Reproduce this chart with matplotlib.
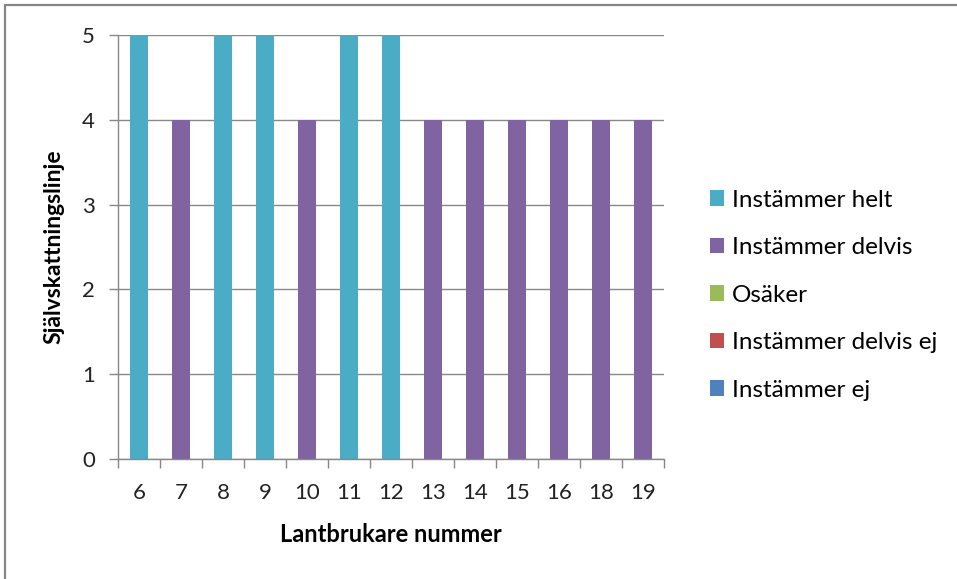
import matplotlib
matplotlib.use("Agg")
import matplotlib.pyplot as plt
import numpy as np
from matplotlib.patches import Rectangle
from matplotlib.ticker import FixedLocator

# --- data ---------------------------------------------------------------
farmers = ["6", "7", "8", "9", "10", "11", "12", "13", "14", "15", "16", "18", "19"]
series_names = ["Instämmer helt", "Instämmer delvis", "Osäker",
                "Instämmer delvis ej", "Instämmer ej"]
helt = [5, 0, 5, 5, 0, 5, 5, 0, 0, 0, 0, 0, 0]
delvis = [0, 4, 0, 0, 4, 0, 0, 4, 4, 4, 4, 4, 4]
osaker = [0] * 13
delvis_ej = [0] * 13
ej = [0] * 13
colors = ["#4BACC6", "#8064A2", "#9BBB59", "#C0504D", "#4F81BD"]

plt.rcParams["font.family"] = ["Lato", "DejaVu Sans"]
grey = "#888888"

fig = plt.figure(figsize=(9.57, 5.79), dpi=100)
ax = fig.add_axes([118 / 957, 1 - 459 / 579, 546 / 957, 424 / 579])

x = np.arange(len(farmers))
bottom = np.zeros(len(farmers))
for name, vals, c in zip(series_names, [helt, delvis, osaker, delvis_ej, ej], colors):
    ax.bar(x, vals, width=0.42, bottom=bottom, color=c, label=name, zorder=2)
    bottom += np.array(vals)

ax.set_xlim(-0.5, len(farmers) - 0.5)
ax.set_ylim(0, 5)
ax.set_yticks(range(6))
ax.yaxis.grid(True, color=grey, linewidth=1.0, zorder=0)

# category boundaries get the tick marks, labels sit at the centres
ax.xaxis.set_major_locator(FixedLocator(np.arange(-0.5, len(farmers), 1.0)))
ax.xaxis.set_minor_locator(FixedLocator(x))
ax.set_xticklabels([], minor=False)
ax.set_xticklabels(farmers, minor=True)
ax.tick_params(axis="x", which="major", length=6.5, width=1.0, color=grey, direction="out")
ax.tick_params(axis="x", which="minor", length=0, pad=17, labelsize=16, labelcolor="#222222")
ax.tick_params(axis="y", length=6.5, width=1.0, color=grey, pad=10, labelsize=16,
               labelcolor="#222222")

for side in ["top", "right"]:
    ax.spines[side].set_visible(False)
for side in ["left", "bottom"]:
    ax.spines[side].set_color(grey)
    ax.spines[side].set_linewidth(1.0)

ax.set_xlabel("Lantbrukare nummer", fontsize=17, fontweight="bold", labelpad=15)
ax.set_ylabel("Självskattningslinje", fontsize=16.5, fontweight="bold", labelpad=13)

fig.legend(loc="upper left", bbox_to_anchor=(700 / 957, 1 - 180 / 579),
           frameon=False, fontsize=17.5, handlelength=0.6, handleheight=0.6,
           handletextpad=0.3, labelspacing=1.09, borderaxespad=0)

# outer frame of the chart object
fig.patches.append(Rectangle((5 / 957, -0.05), 1.0, 1 - 5 / 579 + 0.05,
                             transform=fig.transFigure, fill=False,
                             edgecolor="#868686", linewidth=1.6))

fig.savefig("out.png", dpi=100)
